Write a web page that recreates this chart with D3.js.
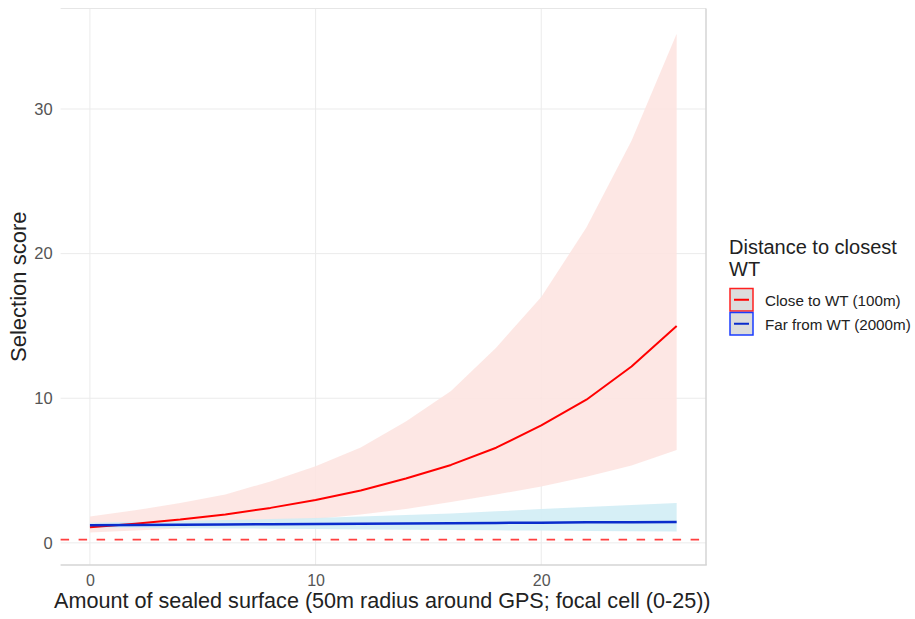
<!DOCTYPE html>
<html>
<head>
<meta charset="utf-8">
<script src="https://cdn.jsdelivr.net/npm/d3@7"></script>
<style>
  html, body { margin: 0; padding: 0; background: #ffffff; }
  svg { display: block; font-family: "Liberation Sans", Arial, sans-serif; }
</style>
</head>
<body>
<svg id="chart" width="915" height="619"></svg>
<script>
// ---- data ----
const xValues = [0, 2, 4, 6, 8, 10, 12, 14, 16, 18, 20, 22, 24, 26];

const closeFit   = [1.08, 1.32, 1.61, 1.97, 2.42, 2.97, 3.62, 4.45, 5.39, 6.58, 8.12, 9.90, 12.2, 15.0];
const closeUpper = [1.82, 2.25, 2.75, 3.35, 4.25, 5.30, 6.60, 8.40, 10.5, 13.5, 17.0, 21.8, 27.8, 35.2];
const closeLower = [0.72, 0.85, 1.00, 1.18, 1.40, 1.66, 1.97, 2.35, 2.82, 3.34, 3.90, 4.57, 5.35, 6.42];

const farFit     = [1.22, 1.24, 1.25, 1.27, 1.29, 1.30, 1.32, 1.34, 1.36, 1.38, 1.40, 1.42, 1.43, 1.45];
const farUpper   = [1.40, 1.46, 1.52, 1.58, 1.65, 1.72, 1.82, 1.92, 2.04, 2.18, 2.34, 2.48, 2.62, 2.76];
const farLower   = [1.06, 1.04, 1.02, 1.00, 0.98, 0.96, 0.93, 0.91, 0.89, 0.87, 0.85, 0.83, 0.80, 0.78];

const refLine = 0.22;

const seriesNames = ["Close to WT (100m)", "Far from WT (2000m)"];
const xTicks = [0, 10, 20];
const yTicks = [0, 10, 20, 30];
const xTitle = "Amount of sealed surface (50m radius around GPS; focal cell (0-25))";
const yTitle = "Selection score";
const legendTitle = ["Distance to closest", "WT"];

// ---- layout ----
const svg = d3.select("#chart");
const panel = { left: 60.6, right: 706, top: 8.5, bottom: 565 };

function expand(ext) {
  const d = ext[1] - ext[0];
  return [ext[0] - 0.05 * d, ext[1] + 0.05 * d];
}
const xExt = d3.extent(xValues);
const yExt = [Math.min(refLine, d3.min(farLower), d3.min(closeLower)),
              Math.max(d3.max(closeUpper), d3.max(farUpper))];

const x = d3.scaleLinear().domain(expand(xExt)).range([panel.left, panel.right]);
const y = d3.scaleLinear().domain(expand(yExt)).range([panel.bottom, panel.top]);

const series = [
  { name: seriesNames[0], fit: closeFit, lo: closeLower, hi: closeUpper,
    line: "#ff0000", key: "#ff2020", fill: "#fde4e0", width: 2 },
  { name: seriesNames[1], fit: farFit, lo: farLower, hi: farUpper,
    line: "#0a2ccc", key: "#1a3cff", fill: "#d0edf5", width: 2.5 }
];

// grid
const grid = svg.append("g");
grid.selectAll(".gy").data(yTicks).enter().append("line")
  .attr("x1", panel.left).attr("x2", panel.right)
  .attr("y1", d => y(d)).attr("y2", d => y(d))
  .attr("stroke", "#ebebeb").attr("stroke-width", 1);
grid.selectAll(".gx").data(xTicks).enter().append("line")
  .attr("y1", panel.top).attr("y2", panel.bottom)
  .attr("x1", d => x(d)).attr("x2", d => x(d))
  .attr("stroke", "#ebebeb").attr("stroke-width", 1);

// ribbons
const area = d3.area()
  .x((d, i) => x(xValues[i]))
  .y0(d => y(d[0]))
  .y1(d => y(d[1]));
series.forEach(s => {
  const pts = xValues.map((v, i) => [s.lo[i], s.hi[i]]);
  svg.append("path").datum(pts).attr("d", area)
    .attr("fill", s.fill).attr("fill-opacity", 0.88);
});

// reference dashed line
svg.append("line")
  .attr("x1", panel.left).attr("x2", panel.right)
  .attr("y1", y(refLine)).attr("y2", y(refLine))
  .attr("stroke", "#ff4040").attr("stroke-width", 1.7)
  .attr("stroke-dasharray", "8.5,9.5");

// fit lines
const line = d3.line().x((d, i) => x(xValues[i])).y(d => y(d));
series.forEach(s => {
  svg.append("path").datum(s.fit).attr("d", line)
    .attr("fill", "none").attr("stroke", s.line).attr("stroke-width", s.width)
    .attr("stroke-linejoin", "round");
});

// panel border (top light, right/bottom darker)
svg.append("line").attr("x1", panel.left).attr("x2", panel.right)
  .attr("y1", panel.top).attr("y2", panel.top)
  .attr("stroke", "#e6e6e6").attr("stroke-width", 1);
svg.append("line").attr("x1", panel.right).attr("x2", panel.right)
  .attr("y1", panel.top).attr("y2", panel.bottom)
  .attr("stroke", "#d4d4d4").attr("stroke-width", 1.5);
svg.append("line").attr("x1", panel.left).attr("x2", panel.right + 0.75)
  .attr("y1", panel.bottom).attr("y2", panel.bottom)
  .attr("stroke", "#d4d4d4").attr("stroke-width", 1.5);

// axes (labels only, like ggplot minimal)
const xAxis = d3.axisBottom(x).tickValues(xTicks).tickSize(0).tickPadding(10);
const gx = svg.append("g").attr("transform", `translate(0,${panel.bottom})`).call(xAxis);
gx.select(".domain").remove();
gx.selectAll("text").attr("fill", "#555555").style("font-size", "16px")
  .style("font-family", "'Liberation Sans', Arial, sans-serif");

const yAxis = d3.axisLeft(y).tickValues(yTicks).tickSize(0).tickPadding(8);
const gy = svg.append("g").attr("transform", `translate(${panel.left},0)`).call(yAxis);
gy.select(".domain").remove();
gy.selectAll("text").attr("fill", "#555555").style("font-size", "16.5px")
  .style("font-family", "'Liberation Sans', Arial, sans-serif");

// axis titles
svg.append("text").attr("x", (panel.left + panel.right) / 2 - 1).attr("y", 608)
  .attr("text-anchor", "middle").attr("fill", "#222").style("font-size", "21.6px")
  .text(xTitle);
svg.append("text")
  .attr("transform", `translate(25.5,${(panel.top + panel.bottom) / 2}) rotate(-90)`)
  .attr("text-anchor", "middle").attr("fill", "#222").style("font-size", "22px")
  .text(yTitle);

// legend
const lg = svg.append("g");
legendTitle.forEach((t, i) => {
  lg.append("text").attr("x", 729).attr("y", 254 + i * 21.5)
    .attr("fill", "#222").style("font-size", "20px").text(t);
});
series.forEach((s, i) => {
  const top = 288.5 + i * 24;
  lg.append("rect").attr("x", 730).attr("y", top).attr("width", 23).attr("height", 22.5)
    .attr("fill", "#dcdcdc").attr("stroke", s.key).attr("stroke-width", 1.5);
  lg.append("line").attr("x1", 734).attr("x2", 749)
    .attr("y1", top + 11.25).attr("y2", top + 11.25)
    .attr("stroke", s.line).attr("stroke-width", 2);
  lg.append("text").attr("x", 765).attr("y", top + 17)
    .attr("fill", "#222").style("font-size", "15.2px").text(s.name);
});
</script>
</body>
</html>
